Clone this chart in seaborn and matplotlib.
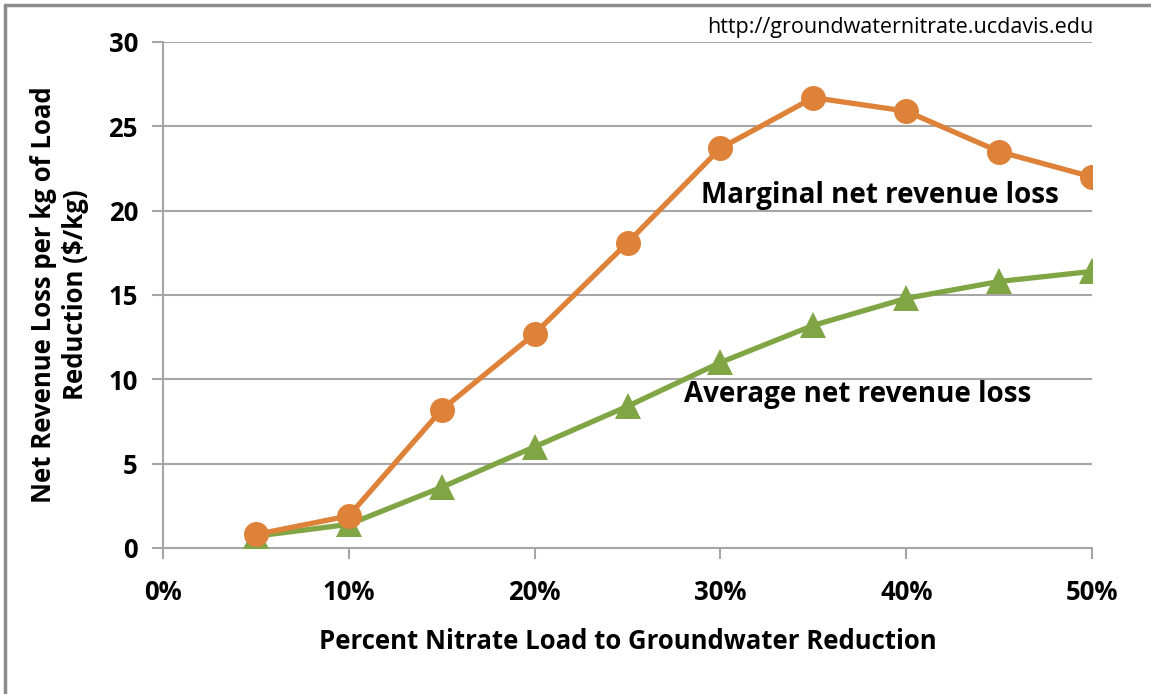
import matplotlib
matplotlib.use("Agg")
import matplotlib.pyplot as plt
from matplotlib.lines import Line2D
import pandas as pd
import seaborn as sns

# Percent reduction of nitrate load to groundwater
reduction_pct = [5, 10, 15, 20, 25, 30, 35, 40, 45, 50]
# Net revenue loss per kg of load reduction ($/kg)
marginal_loss = [0.8, 1.9, 8.2, 12.7, 18.1, 23.7, 26.7, 25.9, 23.5, 22.0]
average_loss = [0.7, 1.4, 3.6, 6.0, 8.4, 11.0, 13.2, 14.8, 15.8, 16.4]

x_ticks = [0, 10, 20, 30, 40, 50]
x_tick_labels = ["0%", "10%", "20%", "30%", "40%", "50%"]
y_ticks = [0, 5, 10, 15, 20, 25, 30]

ORANGE = "#DE8239"
GREEN = "#80A545"
GRID = "#A6A6A6"
FS = 18.5
FS_NOTE = 20

sns.set_theme(style="white")
plt.rcParams["font.family"] = ["Open Sans", "DejaVu Sans"]
plt.rcParams["text.color"] = "black"
plt.rcParams["axes.labelcolor"] = "black"

df = pd.DataFrame({
    "pct": reduction_pct,
    "marginal": marginal_loss,
    "average": average_loss,
})

fig = plt.figure(figsize=(11.51, 6.94), dpi=100)
ax = fig.add_axes([0.1416, 0.2104, 0.9488 - 0.1416, 0.9395 - 0.2104])

sns.lineplot(data=df, x="pct", y="average", ax=ax, color=GREEN, lw=3.8,
             marker="^", markersize=19, markeredgewidth=0, zorder=3)
sns.lineplot(data=df, x="pct", y="marginal", ax=ax, color=ORANGE, lw=3.8,
             marker="o", markersize=18, markeredgewidth=0, zorder=4)

ax.set_xlim(0, 50)
ax.set_ylim(0, 30)
ax.set_xticks(x_ticks)
ax.set_xticklabels(x_tick_labels)
ax.set_yticks(y_ticks)

ax.yaxis.grid(True, color=GRID, lw=1.5)
ax.set_axisbelow(True)
for side in ("top", "right"):
    ax.spines[side].set_visible(False)
for side in ("left", "bottom"):
    ax.spines[side].set_color(GRID)
    ax.spines[side].set_linewidth(1.5)
    ax.spines[side].set_zorder(1)

ax.tick_params(axis="x", direction="out", length=8, width=1.5, color=GRID,
               labelcolor="black", labelsize=FS, pad=14, bottom=True)
ax.tick_params(axis="y", direction="out", length=8, width=1.5, color=GRID,
               labelcolor="black", labelsize=FS, pad=10, left=True)
for lbl in ax.get_xticklabels() + ax.get_yticklabels():
    lbl.set_fontweight("bold")

ax.set_xlabel("Percent Nitrate Load to Groundwater Reduction",
              fontsize=FS, fontweight="bold", labelpad=16)
ax.set_ylabel("Net Revenue Loss per kg of Load\nReduction ($/kg)",
              fontsize=FS, fontweight="bold", labelpad=14, linespacing=1.25)

ax.text(38.6, 20.9, "Marginal net revenue loss", fontsize=FS_NOTE,
        fontweight="bold", ha="center", va="center")
ax.text(37.4, 9.1, "Average net revenue loss", fontsize=FS_NOTE,
        fontweight="bold", ha="center", va="center")

fig.text(1093 / 1151, 1 - 27 / 694, "http://groundwaternitrate.ucdavis.edu",
         fontsize=15.5, ha="right", va="center")

# frame along the top and left edges
fig.add_artist(Line2D([5 / 1151, 1.0], [1 - 5 / 694, 1 - 5 / 694],
                      transform=fig.transFigure, color="#8C8C8C", lw=2.5))
fig.add_artist(Line2D([5 / 1151, 5 / 1151], [0.0, 1 - 5 / 694],
                      transform=fig.transFigure, color="#8C8C8C", lw=2.5))

fig.savefig("out.png", dpi=100, facecolor="white")
